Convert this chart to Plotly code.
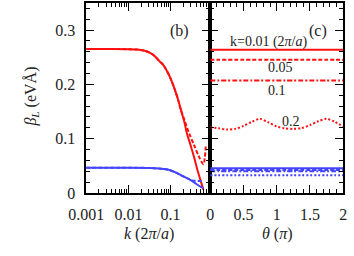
import plotly.graph_objects as go

# ---- panel (b): beta_L vs k (log axis) ----
k_red = [0.001, 0.003, 0.01, 0.016, 0.023, 0.032, 0.043, 0.054, 0.065, 0.076, 0.0985, 0.127, 0.151, 0.179, 0.213, 0.244, 0.30, 0.36, 0.42, 0.50, 0.60]
b_red_solid = [0.265, 0.265, 0.2648, 0.2640, 0.2622, 0.2585, 0.2515, 0.2427, 0.237, 0.229, 0.212, 0.1895, 0.1717, 0.151, 0.130, 0.1095, 0.087, 0.066, 0.046, 0.026, 0.006]

k_red_d = [0.001, 0.003, 0.01, 0.016, 0.023, 0.032, 0.043, 0.054, 0.065, 0.076, 0.0985, 0.127, 0.151, 0.167, 0.213, 0.276, 0.357, 0.462, 0.598, 0.684]
b_red_dash = [0.265, 0.265, 0.2648, 0.2640, 0.2622, 0.2585, 0.2515, 0.2427, 0.237, 0.229, 0.212, 0.1895, 0.1717, 0.158, 0.134, 0.1095, 0.0888, 0.068, 0.053, 0.089]

k_blue = [0.001, 0.003, 0.01, 0.032, 0.06, 0.09, 0.13, 0.179, 0.30, 0.40, 0.50, 0.60]
b_blue_solid = [0.0465, 0.0465, 0.0465, 0.046, 0.0448, 0.0426, 0.038, 0.0325, 0.0237, 0.017, 0.012, 0.009]

k_blue_d = [0.001, 0.003, 0.01, 0.032, 0.06, 0.09, 0.13, 0.179, 0.30, 0.36, 0.45, 0.60]
b_blue_dash = [0.0465, 0.0465, 0.0465, 0.046, 0.0448, 0.0426, 0.038, 0.0325, 0.0237, 0.0225, 0.0222, 0.022]

# ---- panel (c): beta_L vs theta ----
theta = [0, 0.125, 0.25, 0.375, 0.5, 0.625, 0.75, 0.875, 1.0, 1.125, 1.25, 1.375, 1.5, 1.625, 1.75, 1.875, 2.0]
c_red_001 = [0.2635] * 17
c_red_005 = [0.2455] * 17
c_red_01 = [0.207] * 17
c_red_02 = [0.121, 0.119, 0.117, 0.118, 0.1235, 0.131, 0.1365, 0.130, 0.1225, 0.119, 0.118, 0.1195, 0.125, 0.132, 0.1365, 0.131, 0.1225]
c_blue_001 = [0.0456] * 17
c_blue_005 = [0.0425] * 17
c_blue_01 = [0.040] * 17
c_blue_02 = [0.0325] * 17

k_ticks = [0.001, 0.01, 0.1]
k_ticktext = ["0.001", "0.01", "0.1"]
theta_ticks = [0, 0.5, 1, 1.5, 2]
theta_ticktext = ["0", "0.5", "1", "1.5", "2"]
y_ticks = [0, 0.1, 0.2, 0.3]
y_ticktext = ["0", "0.1", "0.2", "0.3"]

RED = "#ff1010"
BLUE = "#4444ff"
FONT = "Liberation Serif"
LW = 2

fig = go.Figure()

def add(x, y, color, dash, xa, ya, shape="spline"):
    fig.add_trace(go.Scatter(x=x, y=y, mode="lines", xaxis=xa, yaxis=ya,
                             line=dict(color=color, width=LW, dash=dash, shape=shape, smoothing=0.8),
                             showlegend=False, hoverinfo="skip"))

add(k_red_d, b_red_dash, RED, "4px,2px", "x", "y")
add(k_red, b_red_solid, RED, "solid", "x", "y")
add(k_blue_d, b_blue_dash, BLUE, "4px,2px", "x", "y")
add(k_blue, b_blue_solid, BLUE, "solid", "x", "y")

add(theta, c_blue_02, BLUE, "2px,2px", "x2", "y2")
add(theta, c_blue_01, BLUE, "5px,2px,2px,2px", "x2", "y2")
add(theta, c_blue_005, BLUE, "4px,2px", "x2", "y2")
add(theta, c_blue_001, BLUE, "solid", "x2", "y2")
add(theta, c_red_02, RED, "2px,2px", "x2", "y2")
add(theta, c_red_01, RED, "5px,2px,2px,2px", "x2", "y2")
add(theta, c_red_005, RED, "4px,2px", "x2", "y2")
add(theta, c_red_001, RED, "solid", "x2", "y2")

minor_log = [m * 10 ** e for e in (-3, -2, -1) for m in range(2, 10)]

axis_common = dict(showline=True, linecolor="black", linewidth=1.6, mirror="ticks",
                   ticks="inside", ticklen=8, tickwidth=1.2, tickcolor="black",
                   showgrid=False, zeroline=False,
                   tickfont=dict(family=FONT, size=16, color="#222"))

YD = [0.21875, 0.98828]
fig.update_layout(
    width=354, height=256, margin=dict(l=0, r=0, t=0, b=0),
    paper_bgcolor="white", plot_bgcolor="white",
    xaxis=dict(domain=[0.2054, 0.5791], type="log", range=[-3, -0.06],
               tickvals=k_ticks, ticktext=k_ticktext, anchor="y",
               minor=dict(tickvals=minor_log, ticks="inside", ticklen=4, tickcolor="black", tickwidth=1),
               ticklabelstandoff=6, **axis_common),
    yaxis=dict(domain=YD, range=[0, 0.35], tickvals=y_ticks, ticktext=y_ticktext, anchor="x",
               minor=dict(dtick=0.02, ticks="inside", ticklen=4, tickcolor="black", tickwidth=1),
               ticklabelstandoff=6, **axis_common),
    xaxis2=dict(domain=[0.5791, 0.9794], range=[0, 2], tickvals=theta_ticks, ticktext=theta_ticktext,
                anchor="y2",
                minor=dict(dtick=0.1, ticks="inside", ticklen=4, tickcolor="black", tickwidth=1),
                ticklabelstandoff=6, **axis_common),
    yaxis2=dict(domain=YD, range=[0, 0.35], dtick=0.1, anchor="x2", showticklabels=False,
                minor=dict(dtick=0.02, ticks="inside", ticklen=4, tickcolor="black", tickwidth=1),
                **axis_common),
)

tf = dict(family=FONT, size=16, color="#222")
af = dict(family=FONT, size=14, color="#222")
ann = [
    dict(x=14, y=100, text="<i>β</i><sub><i>L</i></sub> (eVÅ)", textangle=-90, font=tf),
    dict(x=140, y=243, text="<i>k</i> (2<i>π</i>/<i>a</i>)", font=tf),
    dict(x=277, y=243, text="<i>θ</i> (<i>π</i>)", font=tf),
    dict(x=172, y=32, text="(b)", font=tf),
    dict(x=320, y=32, text="(c)", font=tf),
    dict(x=267.5, y=43.5, text="k=0.01 (2<i>π</i>/<i>a</i>)", font=af),
    dict(x=280, y=69.5, text="0.05", font=af),
    dict(x=276, y=93.5, text="0.1", font=af),
    dict(x=291, y=126, text="0.2", font=af),
]
for a in ann:
    fig.add_annotation(x=a["x"] / 354, y=1 - a["y"] / 256, xref="paper", yref="paper",
                       text=a["text"], showarrow=False, font=a["font"],
                       textangle=a.get("textangle", 0), xanchor="center", yanchor="middle")

fig.write_html("out.html", config={"displayModeBar": False},
               post_script="document.body.style.margin='0';document.body.style.padding='0';document.body.style.overflow='hidden';")
